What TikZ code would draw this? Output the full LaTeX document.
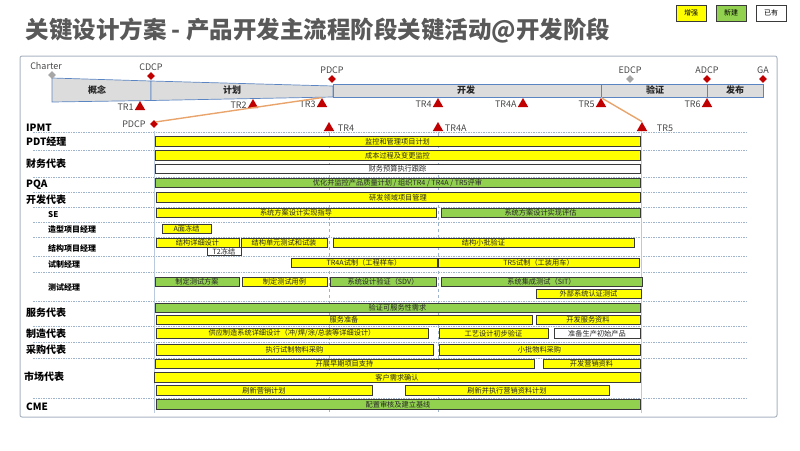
\documentclass[tikz,border=0pt]{standalone}
\usepackage{fontspec}
\setmainfont{Noto Sans CJK SC}
\usepackage{xcolor}
\usepackage{tikz}
\usetikzlibrary{positioning,shapes.geometric}
\definecolor{ink}{HTML}{262626}
\definecolor{titlegrey}{HTML}{595959}
\definecolor{framegrey}{HTML}{A9B4C2}
\definecolor{gridblue}{HTML}{9FB3CC}
\definecolor{edgeblue}{HTML}{B8C9E0}
\definecolor{phasefill}{HTML}{DCDCDC}
\definecolor{phaseline}{HTML}{5A85C2}
\definecolor{msred}{HTML}{C00000}
\definecolor{msgrey}{HTML}{A6A6A6}
\definecolor{hiyellow}{HTML}{FFFF00}
\definecolor{newgreen}{HTML}{92D050}
\definecolor{barline}{HTML}{3A3A3A}
\definecolor{linkorange}{HTML}{E9A46C}

\begin{document}
\begin{tikzpicture}[
  x=1pt, y=-1pt,
  font=\fontsize{9}{10}\selectfont,
  bar/.style={
    draw=barline, line width=0.7pt, minimum height=9.5pt, inner sep=0pt,
    font=\fontsize{7.2}{8}\selectfont, text=ink
  },
  ybar/.style={bar, fill=hiyellow},
  gbar/.style={bar, fill=newgreen},
  wbar/.style={bar, fill=white},
  role/.style={anchor=west, inner sep=0pt, font=\fontsize{10}{11}\selectfont\bfseries},
  subrole/.style={anchor=west, inner sep=0pt, font=\fontsize{8}{9}\selectfont\bfseries},
  gate/.style={diamond, fill=msred, minimum size=8pt, inner sep=0pt},
  oldgate/.style={gate, fill=msgrey},
  review/.style={regular polygon, regular polygon sides=3, fill=msred, minimum size=12pt, inner sep=0pt},
  mslabel/.style={text=ink!85, inner sep=1pt},
  phase/.style={font=\fontsize{9}{10}\selectfont\bfseries, text=ink},
  rowline/.style={gridblue, dash pattern=on 1.5pt off 1pt, line width=0.5pt},
  link/.style={linkorange, line width=1.4pt},
  legend/.style={draw=barline, line width=0.6pt, minimum width=30pt, minimum height=16pt,
    inner sep=0pt, font=\fontsize{7}{8}\selectfont}
]

\useasboundingbox (0,0) rectangle (800,450);

% title and legend
\node[anchor=west, text=titlegrey, font=\fontsize{23.5}{26}\selectfont\bfseries] (title) at (22,31)
  {关键设计方案 - 产品开发主流程阶段关键活动@开发阶段};
\node[legend, fill=hiyellow] (lg1) at (691,13) {增强};
\node[legend, fill=newgreen] (lg2) at (731,13) {新建};
\node[legend, fill=white]    (lg3) at (771,13) {已有};

\draw[framegrey, line width=1pt, rounded corners=2pt] (20,56) rectangle (777,417);

% phase bar
\draw[phaseline, fill=phasefill, line width=0.7pt] (52,78) -- (151,81) -- (151,100.5) -- (52,102) -- cycle;
\draw[phaseline, fill=phasefill, line width=0.7pt] (151,81) -- (333,86) -- (333,97) -- (151,100.5) -- cycle;
\draw[phaseline, fill=phasefill, line width=0.7pt] (333,84) rectangle (601,97);
\draw[phaseline, fill=phasefill, line width=0.7pt] (601,84) rectangle (707,97);
\draw[phaseline, fill=phasefill, line width=0.7pt] (707,84) rectangle (763,97);

\node[phase] (ph1) at (97,90)  {概念};
\node[phase] (ph2) at (232,90) {计划};
\node[phase] (ph3) at (466,90) {开发};
\node[phase] (ph4) at (655,90) {验证};
\node[phase] (ph5) at (735,90) {发布};

% decision points
\node[oldgate] (charter) at (52,75)  {};
\node[gate]    (cdcp)    at (151,76) {};
\node[gate]    (pdcp)    at (332,79) {};
\node[oldgate] (edcp)    at (630,79) {};
\node[gate]    (adcp)    at (707,79) {};
\node[gate]    (ga)      at (763,79) {};

\node[mslabel, above=0pt of charter, xshift=-6pt] {Charter};
\node[mslabel, above=0pt of cdcp] {CDCP};
\node[mslabel, above=0pt of pdcp] {PDCP};
\node[mslabel, above=0pt of edcp] {EDCP};
\node[mslabel, above=0pt of adcp] {ADCP};
\node[mslabel, above=0pt of ga]   {GA};

% technical reviews
\node[review] (tr1) at (140,107) {};
\node[review] (tr2) at (253,105) {};
\node[review] (tr3) at (322,104) {};
\node[review] (tr4) at (438,104) {};
\node[review] (tr4a) at (523,104) {};
\node[review] (tr5) at (601,104) {};
\node[review] (tr6) at (707,104) {};

\node[mslabel, left=1.5pt of tr1]  {TR1};
\node[mslabel, left=1.5pt of tr2]  {TR2};
\node[mslabel, left=1.5pt of tr3]  {TR3};
\node[mslabel, left=1.5pt of tr4]  {TR4};
\node[mslabel, left=1.5pt of tr4a] {TR4A};
\node[mslabel, left=1.5pt of tr5]  {TR5};
\node[mslabel, left=1.5pt of tr6]  {TR6};

% development stage close-up
\node[gate]   (pdcpb) at (154,124) {};
\node[review] (tr4b)  at (329,128) {};
\node[review] (tr4ab) at (438,128) {};
\node[review] (tr5b)  at (642,128) {};

\node[mslabel, left=3pt of pdcpb]  {PDCP};
\node[mslabel, right=4pt of tr4b]  {TR4};
\node[mslabel, right=2pt of tr4ab] {TR4A};
\node[mslabel, right=10pt of tr5b] {TR5};

\draw[link] (pdcpb.north east) -- (tr3.north);
\draw[link] (tr5.north) -- (tr5b.north);

% grid
\draw[rowline] (33,132) -- (748,132) (33,150) -- (748,150) (33,177) -- (748,177)
  (33,192) -- (748,192) (33,207) -- (748,207) (33,222) -- (748,222) (33,237) -- (748,237)
  (33,256) -- (748,256) (33,272) -- (748,272) (33,301) -- (748,301) (33,326) -- (748,326)
  (33,342) -- (748,342) (33,358) -- (748,358) (33,398) -- (748,398);
\draw[edgeblue, line width=0.7pt] (154,131) -- (154,413) (641,131) -- (641,413);
\draw[gridblue, dashed, line width=0.5pt] (329,133) -- (329,413) (438,133) -- (438,413);

% roles
\node[role]    (r1)  at (26,128) {IPMT};
\node[role]    (r2)  at (26,142) {PDT经理};
\node[role]    (r3)  at (26,164) {财务代表};
\node[role]    (r4)  at (26,185) {PQA};
\node[role]    (r5)  at (26,200) {开发代表};
\node[subrole] (r6)  at (48,215) {SE};
\node[subrole] (r7)  at (48,229) {造型项目经理};
\node[subrole] (r8)  at (48,248) {结构项目经理};
\node[subrole] (r9)  at (48,264) {试制经理};
\node[subrole] (r10) at (48,287) {测试经理};
\node[role]    (r11) at (26,313) {服务代表};
\node[role]    (r12) at (26,334) {制造代表};
\node[role]    (r13) at (26,350) {采购代表};
\node[role]    (r14) at (24,377) {市场代表};
\node[role]    (r15) at (26,407) {CME};

% activities
\node[ybar, minimum width=485pt] (a1)  at (397.5,141.5) {监控和管理项目计划};
\node[ybar, minimum width=485pt] (a2)  at (397.5,155.5) {成本过程及变更监控};
\node[wbar, minimum width=485pt] (a3)  at (397.5,169)   {财务预算执行跟踪};
\node[gbar, minimum width=485pt] (a4)  at (397.5,183)   {优化并监控产品质量计划 / 组织TR4 / TR4A / TR5评审};
\node[ybar, minimum width=484pt] (a5)  at (398,197.5)   {研发领域项目管理};
\node[ybar, minimum width=280pt] (a6)  at (296,213)     {系统方案设计实现指导};
\node[gbar, minimum width=199pt] (a7)  at (540.5,213)   {系统方案设计实现评估};
\node[ybar, minimum width=49pt]  (a8)  at (186.5,229)   {A面冻结};
\node[ybar, minimum width=83pt]  (a9)  at (197.5,243)   {结构详细设计};
\node[ybar, minimum width=86pt]  (a10) at (284,243)     {结构单元测试和试装};
\node[ybar, minimum width=301pt] (a11) at (483.5,243)   {结构小批验证};
\node[wbar, minimum width=34pt, minimum height=8.5pt] (a12) at (224,251.5) {T2冻结};
\node[ybar, minimum width=146pt] (a13) at (364,263)     {TR4A试制（工程样车）};
\node[ybar, minimum width=201pt] (a14) at (538.5,263)   {TR5试制（工装用车）};
\node[gbar, minimum width=84pt]  (a15) at (197,282)     {制定测试方案};
\node[ybar, minimum width=85pt]  (a16) at (284.5,282)   {制定测试用例};
\node[gbar, minimum width=106pt] (a17) at (383,282)     {系统设计验证（SDV）};
\node[gbar, minimum width=201pt] (a18) at (541.5,282)   {系统集成测试（SIT）};
\node[ybar, minimum width=105pt] (a19) at (588.5,294)   {外部系统认证测试};
\node[gbar, minimum width=485pt] (a20) at (397.5,308)   {验证可服务性需求};
\node[ybar, minimum width=376pt] (a21) at (344,320)     {服务准备};
\node[ybar, minimum width=104pt] (a22) at (588,320)     {开发服务资料};
\node[ybar, minimum width=272pt] (a23) at (292,333.5)   {供应制造系统详细设计（冲/焊/涂/总装等详细设计）};
\node[ybar, minimum width=109pt] (a24) at (493.5,333.5) {工艺设计初步验证};
\node[wbar, minimum width=86pt]  (a25) at (597,333.5)   {准备生产初始产品};
\node[ybar, minimum width=277pt, minimum height=11pt] (a26) at (294.5,349.5) {执行试制物料采购};
\node[ybar, minimum width=201pt, minimum height=11pt] (a27) at (539.5,349.5) {小批物料采购};
\node[ybar, minimum width=379pt] (a28) at (344.5,364)   {开展早期项目支持};
\node[ybar, minimum width=97pt]  (a29) at (591.5,364)   {开发营销资料};
\node[ybar, minimum width=486pt] (a30) at (397,377.5)   {客户需求确认};
\node[ybar, minimum width=216pt, minimum height=10.5pt] (a31) at (264,390.5) {刷新营销计划};
\node[ybar, minimum width=204pt, minimum height=10.5pt] (a32) at (507,390.5) {刷新并执行营销资料计划};
\node[gbar, minimum width=484pt, minimum height=10.5pt] (a33) at (398,404.5) {配置审核及建立基线};

\end{tikzpicture}
\end{document}
